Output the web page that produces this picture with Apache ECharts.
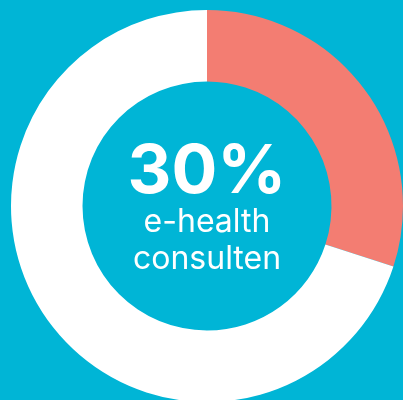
<!DOCTYPE html>
<html><head><meta charset="utf-8">
<script src="https://cdn.jsdelivr.net/npm/echarts@6/dist/echarts.min.js"></script>
<style>html,body{margin:0;padding:0;background:#00B5D6}#c{width:403px;height:400px}</style>
</head><body><div id="c"></div>
<script>
var categories = ['e-health consulten', 'overig'];
var values = [30, 70];
var colors = ['#F37D72', '#FFFFFF'];
var centerLabel = '30%';
var subLines = ['e-health', 'consulten'];

var chart = echarts.init(document.getElementById('c'));
chart.setOption({
  backgroundColor: '#00B5D6',
  animation: false,
  series: [{
    type: 'pie',
    center: [207, 206],
    radius: [124.5, 196],
    startAngle: 90,
    clockwise: true,
    silent: true,
    label: {show: false},
    labelLine: {show: false},
    itemStyle: {borderWidth: 0},
    data: categories.map(function (c, i) {
      return {name: c, value: values[i], itemStyle: {color: colors[i]}};
    })
  }],
  graphic: [
    {type: 'text', x: 207, y: 207, style: {text: centerLabel, fill: '#fff', font: 'bold 68px Inter', textAlign: 'center', textVerticalAlign: 'bottom'}},
    {type: 'text', x: 207, y: 238, style: {text: subLines[0], fill: '#fff', font: '32px Inter', textAlign: 'center', textVerticalAlign: 'bottom'}},
    {type: 'text', x: 207, y: 275, style: {text: subLines[1], fill: '#fff', font: '32px Inter', textAlign: 'center', textVerticalAlign: 'bottom'}}
  ]
});
</script></body></html>
